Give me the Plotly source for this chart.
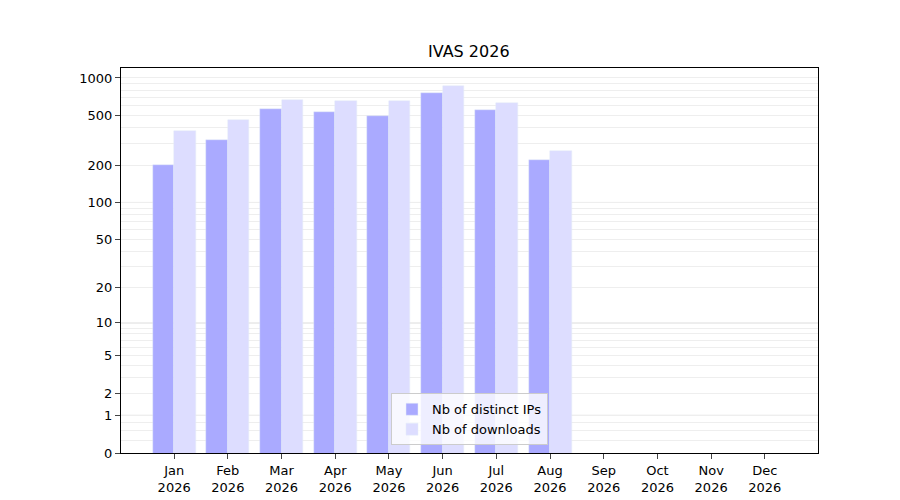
import plotly.graph_objects as go

months = ["Jan<br>2026","Feb<br>2026","Mar<br>2026","Apr<br>2026","May<br>2026","Jun<br>2026",
          "Jul<br>2026","Aug<br>2026","Sep<br>2026","Oct<br>2026","Nov<br>2026","Dec<br>2026"]
ips = [200, 319, 565, 535, 496, 758, 554, 220]
downloads = [376, 461, 667, 655, 655, 863, 630, 260]
tick_values = [0, 1, 2, 5, 10, 20, 50, 100, 200, 500, 1000]

# axis is log10(y+1)
x = list(range(len(ips)))
fig = go.Figure()
fig.add_bar(x=x, y=[v + 1 for v in ips], width=0.4, offset=-0.4, marker_color="#aaaaff",
            name="Nb of distinct IPs", hovertext=ips)
fig.add_bar(x=x, y=[v + 1 for v in downloads], width=0.4, offset=0, marker_color="#ddddff",
            name="Nb of downloads", hovertext=downloads)

minor = []
for d in [1, 10, 100, 1000]:
    for k in range(1, 10):
        v = d * k
        if v <= 1300:
            minor.append(v + 1)
minor += [1.25, 1.5, 1.75]

for v in [1, 10, 100]:
    fig.add_shape(type="line", xref="paper", x0=0, x1=1, y0=v + 1, y1=v + 1,
                  line=dict(color="#c8c8c8", width=1), layer="between")

fig.update_layout(
    width=900, height=500, plot_bgcolor="white", paper_bgcolor="white",
    margin=dict(l=113, r=90, t=60, b=55, autoexpand=False),
    title=dict(text="IVAS 2026", x=0.512, xanchor="center", y=0.925, font=dict(size=16, color="black")),
    font=dict(family="DejaVu Sans", size=13, color="black"),
    showlegend=True,
    legend=dict(x=0.5, y=0.02, xanchor="center", yanchor="bottom", bgcolor="rgba(255,255,255,0.8)",
                bordercolor="#cccccc", borderwidth=1, font=dict(size=13)),
    bargap=0,
)
fig.update_xaxes(range=[-0.99, 11.99], tickvals=list(range(12)), ticktext=months, showgrid=False,
                 showline=True, mirror=True, linecolor="black", ticks="outside", zeroline=False,
                 automargin=False)
fig.update_yaxes(type="log", range=[0, 3.08], tickvals=[v + 1 for v in tick_values],
                 ticktext=[str(v) for v in tick_values], showgrid=False,
                 minor=dict(tickvals=minor, showgrid=True, gridcolor="#eeeeee", ticks=""),
                 showline=True, mirror=True, linecolor="black", ticks="outside", zeroline=False,
                 automargin=False)
fig.write_html("out.html")
